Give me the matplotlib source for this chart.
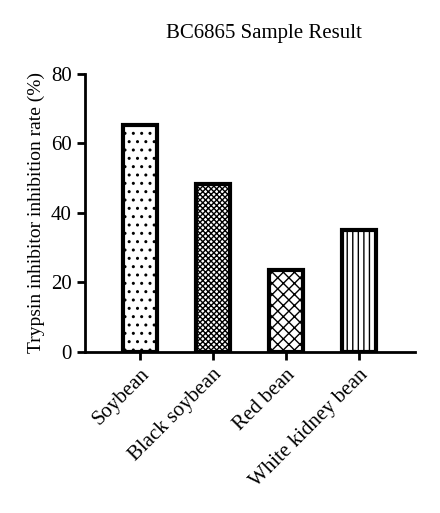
import matplotlib
matplotlib.use("Agg")
import matplotlib.pyplot as plt

categories = ["Soybean", "Black soybean", "Red bean", "White kidney bean"]
values = [65.2, 48.3, 23.6, 35.1]
hatches = ["..", "xxxxxx", "xxx", "|||"]
yticks = [0, 20, 40, 60, 80]

plt.rcParams['font.family'] = ['Liberation Serif']
plt.rcParams['hatch.linewidth'] = 1.0
fig = plt.figure(figsize=(4.40, 5.13), dpi=100)
ax = fig.add_axes([0.193, 0.314, 0.75, 0.542])
bars = ax.bar(range(len(categories)), values, width=0.47, color="white",
              edgecolor="black", linewidth=3)
for b, h in zip(bars, hatches):
    b.set_hatch(h)
ax.set_xlim(-0.75, 3.77)
ax.set_ylim(0, 80)
ax.set_yticks(yticks)
ax.set_xticks(range(len(categories)))
ax.set_xticklabels(categories, rotation=45, ha="right", rotation_mode="anchor", fontsize=15)
ax.tick_params(axis='y', labelsize=15, width=2, length=6)
ax.tick_params(axis='x', width=2, length=6)
for s in ["top", "right"]:
    ax.spines[s].set_visible(False)
for s in ["left", "bottom"]:
    ax.spines[s].set_linewidth(2)
ax.set_ylabel("Trypsin inhibitor inhibition rate (%)", fontsize=14)
fig.text(0.6, 0.925, "BC6865 Sample Result", ha="center", fontsize=15)
fig.savefig("out.png", dpi=100)
